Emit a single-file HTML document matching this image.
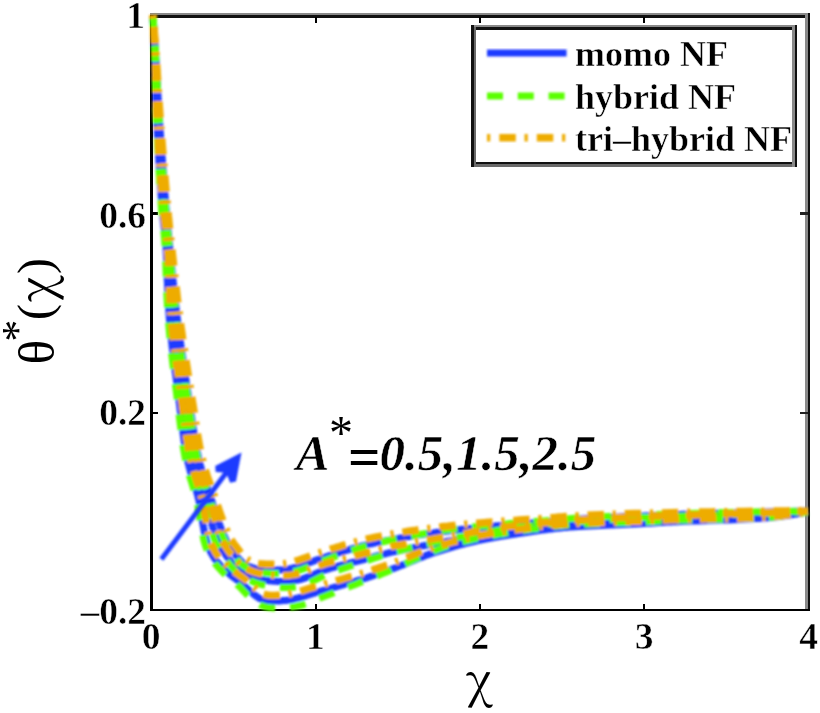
<!DOCTYPE html>
<html><head><meta charset="utf-8"><title>theta plot</title>
<style>
html,body{margin:0;padding:0;background:#fff;}
body{width:820px;height:713px;overflow:hidden;}
svg{display:block;}
.tk{font-family:"Liberation Serif",serif;font-weight:bold;font-size:37.5px;fill:#000;stroke:#fff;stroke-width:0.5px;}
.lg{font-family:"Liberation Serif",serif;font-weight:bold;font-size:36px;fill:#000;stroke:#fff;stroke-width:0.5px;}
.an{font-family:"Liberation Serif",serif;font-weight:bold;font-style:italic;font-size:50px;fill:#000;stroke:#fff;stroke-width:0.5px;}
.anu{font-family:"Liberation Serif",serif;font-weight:bold;font-size:50px;fill:#000;}
.gx{font-family:"Noto Serif CJK SC","DejaVu Serif",serif;font-size:48px;fill:#000;}
.pr{font-family:"Liberation Serif",serif;font-size:48px;fill:#000;}
</style></head>
<body>
<svg width="820" height="713" viewBox="0 0 820 713">
<defs>
<filter id="bl" x="-5%" y="-5%" width="110%" height="110%"><feGaussianBlur stdDeviation="0.8"/></filter>
</defs>
<rect x="0" y="0" width="820" height="713" fill="#fff"/>
<!-- axes box -->
<g shape-rendering="crispEdges">
<rect x="150" y="13" width="660" height="2.3" fill="#8a8a8a"/>
<rect x="150" y="15.3" width="660" height="2.4" fill="#111"/>
<rect x="805" y="13" width="2.5" height="598" fill="#8a8a8a"/>
<rect x="807.5" y="13" width="2.5" height="598" fill="#111"/>
<rect x="150" y="15" width="2.6" height="596" fill="#000"/>
<rect x="150" y="608.9" width="660" height="2.3" fill="#000"/>
<!-- ticks bottom/top -->
<rect x="314.6" y="603.5" width="2" height="6" fill="#000"/>
<rect x="479" y="603.5" width="2" height="6" fill="#000"/>
<rect x="643.4" y="603.5" width="2" height="6" fill="#000"/>
<rect x="314.6" y="17" width="2" height="6" fill="#000"/>
<rect x="479" y="17" width="2" height="6" fill="#000"/>
<rect x="643.4" y="17" width="2" height="6" fill="#000"/>
<!-- ticks left/right -->
<rect x="152" y="212.3" width="6" height="2.3" fill="#000"/>
<rect x="152" y="411.6" width="6" height="2.3" fill="#000"/>
<rect x="799.5" y="212.4" width="8" height="2.4" fill="#222"/>
<rect x="799.5" y="411.7" width="8" height="2.4" fill="#222"/>
</g>
<g filter="url(#bl)">
<path d="M153.0,15.0 L153.2,18.7 L153.3,22.4 L153.5,26.1 L153.6,29.8 L153.8,33.4 L153.9,37.1 L154.1,40.8 L154.2,44.5 L154.4,48.3 L154.5,52.1 L154.7,56.0 L154.8,60.0 L155.0,64.7 L155.1,69.3 L155.2,74.1 L155.3,78.9 L155.4,83.7 L155.6,88.6 L155.7,93.6 L155.8,98.7 L156.0,103.9 L156.2,109.1 L156.4,114.5 L156.6,120.0 L157.0,127.2 L157.4,135.0 L157.8,143.1 L158.3,151.6 L158.8,160.1 L159.3,168.7 L159.9,177.2 L160.4,185.4 L161.0,193.2 L161.5,200.5 L162.0,207.1 L162.5,213.0 L162.8,215.8 L163.0,218.3 L163.3,220.6 L163.5,222.7 L163.8,224.7 L164.0,226.6 L164.3,228.6 L164.5,230.5 L164.8,232.6 L165.0,234.9 L165.3,237.3 L165.5,240.0 L165.9,245.2 L166.2,250.9 L166.5,257.0 L166.7,263.5 L167.0,270.3 L167.2,277.4 L167.5,284.5 L167.8,291.8 L168.1,299.0 L168.5,306.2 L169.0,313.2 L169.5,320.0 L170.1,326.7 L170.8,333.5 L171.5,340.3 L172.2,347.1 L173.1,353.9 L173.9,360.7 L174.7,367.5 L175.6,374.2 L176.5,380.8 L177.3,387.3 L178.2,393.7 L179.0,400.0 L179.7,405.3 L180.3,410.7 L181.0,415.9 L181.6,421.1 L182.2,426.3 L182.9,431.3 L183.5,436.3 L184.2,441.3 L185.0,446.1 L185.8,450.8 L186.6,455.5 L187.5,460.0 L188.3,463.7 L189.2,467.2 L190.2,470.7 L191.2,474.2 L192.2,477.6 L193.3,480.9 L194.3,484.2 L195.3,487.4 L196.3,490.6 L197.2,493.7 L198.0,496.9 L198.8,500.0 L199.4,502.7 L199.9,505.3 L200.4,508.0 L200.8,510.6 L201.2,513.3 L201.6,515.8 L202.0,518.4 L202.4,520.8 L202.8,523.3 L203.2,525.6 L203.6,527.8 L204.0,530.0 L204.3,531.5 L204.6,533.0 L204.9,534.4 L205.2,535.8 L205.5,537.1 L205.8,538.5 L206.1,539.8 L206.4,541.0 L206.8,542.3 L207.1,543.5 L207.5,544.8 L208.0,546.0 L208.5,547.2 L208.9,548.3 L209.4,549.4 L210.0,550.5 L210.5,551.6 L211.1,552.7 L211.7,553.8 L212.3,554.8 L212.9,555.9 L213.6,556.9 L214.3,558.0 L215.0,559.0 L215.8,560.1 L216.7,561.3 L217.6,562.4 L218.6,563.5 L219.6,564.6 L220.6,565.7 L221.6,566.8 L222.7,567.9 L223.8,568.9 L224.8,570.0 L225.9,571.0 L227.0,572.0 L228.1,573.0 L229.2,573.9 L230.3,574.8 L231.4,575.7 L232.6,576.6 L233.7,577.5 L234.9,578.4 L236.1,579.2 L237.3,580.1 L238.5,581.1 L239.7,582.0 L241.0,583.0 L242.6,584.3 L244.2,585.7 L245.9,587.3 L247.5,588.8 L249.3,590.4 L251.0,592.0 L252.8,593.6 L254.6,595.1 L256.4,596.4 L258.2,597.6 L260.1,598.7 L262.0,599.5 L263.8,600.1 L265.7,600.5 L267.6,600.8 L269.6,601.0 L271.6,601.2 L273.6,601.2 L275.6,601.1 L277.6,601.1 L279.5,600.9 L281.4,600.8 L283.2,600.6 L285.0,600.5 L286.4,600.4 L287.7,600.2 L289.0,600.0 L290.3,599.8 L291.6,599.6 L292.8,599.3 L294.0,599.0 L295.2,598.7 L296.4,598.4 L297.6,598.1 L298.8,597.8 L300.0,597.5 L301.1,597.2 L302.2,596.9 L303.3,596.6 L304.4,596.3 L305.4,595.9 L306.5,595.6 L307.5,595.2 L308.6,594.9 L309.7,594.6 L310.7,594.2 L311.9,593.8 L313.0,593.5 L314.3,593.1 L315.6,592.7 L317.0,592.3 L318.3,591.9 L319.6,591.5 L321.0,591.1 L322.4,590.7 L323.8,590.3 L325.3,589.9 L326.8,589.4 L328.4,589.0 L330.0,588.5 L332.4,587.8 L334.9,587.1 L337.5,586.4 L340.2,585.6 L343.0,584.8 L345.9,584.0 L348.8,583.2 L351.7,582.4 L354.5,581.6 L357.4,580.7 L360.2,579.9 L363.0,579.0 L365.7,578.1 L368.3,577.3 L371.0,576.4 L373.6,575.5 L376.3,574.7 L378.9,573.8 L381.5,572.8 L384.2,571.9 L386.8,571.0 L389.5,570.0 L392.2,569.0 L395.0,568.0 L398.1,566.8 L401.1,565.6 L404.2,564.4 L407.4,563.1 L410.5,561.8 L413.7,560.5 L416.9,559.1 L420.1,557.8 L423.3,556.6 L426.5,555.3 L429.7,554.1 L433.0,553.0 L436.3,551.9 L439.7,550.8 L443.0,549.8 L446.4,548.8 L449.7,547.8 L453.1,546.8 L456.5,545.9 L460.0,544.9 L463.4,544.0 L466.9,543.2 L470.4,542.3 L474.0,541.5 L477.9,540.6 L481.8,539.8 L485.8,539.0 L489.9,538.3 L494.0,537.5 L498.1,536.8 L502.2,536.1 L506.2,535.5 L510.3,534.8 L514.3,534.2 L518.2,533.6 L522.0,533.0 L525.4,532.5 L528.7,532.0 L532.1,531.5 L535.4,531.0 L538.7,530.6 L542.0,530.1 L545.2,529.7 L548.4,529.3 L551.4,529.0 L554.4,528.6 L557.3,528.3 L560.0,528.0 L561.9,527.8 L563.6,527.6 L565.2,527.5 L566.7,527.4 L568.2,527.3 L569.7,527.1 L571.2,527.0 L572.7,526.9 L574.3,526.8 L576.1,526.7 L578.0,526.6 L580.0,526.5 L584.1,526.3 L588.8,526.0 L593.9,525.8 L599.3,525.5 L605.0,525.3 L610.9,525.0 L616.8,524.7 L622.7,524.5 L628.4,524.2 L634.0,524.0 L639.2,523.7 L644.0,523.5 L647.3,523.3 L650.5,523.2 L653.4,523.0 L656.3,522.8 L659.1,522.6 L661.9,522.5 L664.7,522.3 L667.5,522.1 L670.4,522.0 L673.4,521.8 L676.6,521.7 L680.0,521.5 L685.1,521.3 L690.7,521.1 L696.6,520.9 L702.7,520.7 L709.0,520.5 L715.4,520.3 L721.7,520.1 L728.0,519.9 L734.0,519.7 L739.8,519.5 L745.1,519.3 L750.0,519.0 L752.9,518.8 L755.7,518.6 L758.4,518.5 L761.0,518.3 L763.5,518.1 L765.9,517.9 L768.2,517.7 L770.6,517.5 L772.9,517.3 L775.2,517.1 L777.6,516.8 L780.0,516.5 L782.4,516.2 L784.7,515.9 L787.1,515.5 L789.4,515.2 L791.7,514.8 L794.1,514.4 L796.4,514.0 L798.7,513.6 L801.0,513.2 L803.3,512.8 L805.7,512.4 L808.0,512.0" stroke="#1f3bff" stroke-width="7" fill="none" stroke-linejoin="round"/>
<path d="M153.0,15.0 L153.2,18.7 L153.4,22.4 L153.6,26.1 L153.8,29.8 L154.0,33.4 L154.2,37.1 L154.5,40.8 L154.7,44.5 L154.9,48.3 L155.1,52.1 L155.3,56.0 L155.5,60.0 L155.7,64.7 L156.0,69.3 L156.2,74.1 L156.4,78.9 L156.6,83.7 L156.8,88.6 L157.0,93.6 L157.3,98.7 L157.5,103.9 L157.8,109.1 L158.1,114.5 L158.4,120.0 L158.8,127.2 L159.3,135.0 L159.8,143.1 L160.4,151.6 L161.0,160.1 L161.5,168.7 L162.1,177.2 L162.7,185.4 L163.3,193.2 L163.8,200.5 L164.3,207.1 L164.8,213.0 L165.0,215.8 L165.2,218.3 L165.5,220.6 L165.7,222.7 L165.9,224.7 L166.1,226.6 L166.2,228.6 L166.4,230.5 L166.7,232.6 L166.9,234.9 L167.1,237.3 L167.4,240.0 L167.8,245.2 L168.3,250.9 L168.7,257.0 L169.2,263.5 L169.7,270.3 L170.3,277.4 L170.8,284.5 L171.4,291.8 L172.1,299.0 L172.7,306.2 L173.4,313.2 L174.2,320.0 L174.9,326.7 L175.8,333.5 L176.7,340.3 L177.7,347.1 L178.6,353.9 L179.6,360.7 L180.6,367.5 L181.7,374.2 L182.7,380.8 L183.6,387.3 L184.6,393.7 L185.5,400.0 L186.2,405.3 L186.9,410.6 L187.6,415.9 L188.2,421.1 L188.9,426.3 L189.5,431.3 L190.1,436.3 L190.8,441.3 L191.6,446.1 L192.3,450.8 L193.2,455.5 L194.1,460.0 L194.9,463.6 L195.8,467.2 L196.7,470.6 L197.7,474.0 L198.7,477.3 L199.7,480.5 L200.7,483.8 L201.8,487.0 L202.8,490.2 L203.8,493.4 L204.8,496.7 L205.8,500.0 L206.7,503.4 L207.6,506.9 L208.5,510.4 L209.4,514.0 L210.3,517.5 L211.1,521.1 L212.0,524.6 L212.9,527.9 L213.9,531.2 L214.9,534.3 L215.9,537.3 L217.0,540.0 L217.8,541.8 L218.7,543.6 L219.5,545.2 L220.4,546.8 L221.3,548.3 L222.2,549.8 L223.1,551.2 L224.1,552.6 L225.0,554.0 L226.0,555.3 L227.0,556.7 L228.0,558.0 L228.9,559.2 L229.9,560.4 L230.8,561.6 L231.7,562.8 L232.7,563.9 L233.7,565.1 L234.7,566.2 L235.7,567.2 L236.7,568.2 L237.8,569.2 L238.9,570.1 L240.0,571.0 L241.1,571.8 L242.3,572.5 L243.4,573.2 L244.6,573.9 L245.8,574.5 L247.0,575.1 L248.2,575.6 L249.5,576.1 L250.8,576.6 L252.2,577.1 L253.6,577.6 L255.0,578.0 L256.8,578.5 L258.8,579.0 L260.8,579.4 L262.9,579.8 L265.0,580.2 L267.2,580.5 L269.4,580.8 L271.6,581.0 L273.8,581.2 L275.9,581.3 L278.0,581.4 L280.0,581.5 L281.7,581.5 L283.4,581.5 L285.1,581.5 L286.8,581.4 L288.4,581.3 L290.0,581.2 L291.7,581.0 L293.3,580.8 L294.9,580.5 L296.6,580.2 L298.3,579.9 L300.0,579.5 L302.0,579.0 L304.0,578.4 L306.0,577.6 L308.0,576.9 L310.0,576.0 L312.0,575.2 L314.1,574.3 L316.2,573.4 L318.3,572.5 L320.5,571.6 L322.7,570.8 L325.0,570.0 L327.8,569.1 L330.7,568.2 L333.8,567.4 L336.8,566.5 L340.0,565.7 L343.1,564.8 L346.3,564.0 L349.5,563.2 L352.7,562.4 L355.9,561.6 L359.0,560.8 L362.0,560.0 L364.8,559.3 L367.5,558.5 L370.1,557.8 L372.7,557.1 L375.3,556.4 L377.9,555.7 L380.6,555.0 L383.3,554.3 L386.0,553.6 L388.9,552.9 L391.9,552.2 L395.0,551.5 L399.6,550.5 L404.5,549.5 L409.6,548.5 L415.0,547.4 L420.4,546.4 L426.0,545.3 L431.6,544.3 L437.2,543.3 L442.7,542.3 L448.0,541.3 L453.1,540.4 L458.0,539.5 L461.8,538.8 L465.4,538.1 L468.9,537.4 L472.3,536.8 L475.7,536.2 L479.0,535.5 L482.4,534.9 L485.7,534.3 L489.2,533.7 L492.7,533.1 L496.3,532.6 L500.0,532.0 L504.6,531.3 L509.3,530.7 L514.0,530.1 L518.8,529.4 L523.7,528.8 L528.7,528.3 L533.7,527.7 L538.8,527.1 L544.0,526.6 L549.3,526.0 L554.6,525.5 L560.0,525.0 L566.6,524.4 L573.4,523.8 L580.4,523.3 L587.6,522.7 L594.8,522.2 L602.2,521.6 L609.5,521.1 L616.7,520.7 L623.9,520.2 L630.8,519.8 L637.5,519.4 L644.0,519.0 L649.0,518.7 L653.8,518.5 L658.4,518.2 L662.8,518.0 L667.2,517.9 L671.6,517.7 L675.9,517.5 L680.4,517.3 L685.0,517.1 L689.7,516.9 L694.7,516.7 L700.0,516.5 L707.8,516.1 L716.0,515.8 L724.5,515.4 L733.4,515.0 L742.5,514.5 L751.8,514.1 L761.2,513.7 L770.7,513.2 L780.2,512.8 L789.6,512.4 L798.9,511.9 L808.0,511.5" stroke="#1f3bff" stroke-width="7" fill="none" stroke-linejoin="round"/>
<path d="M153.0,15.0 L153.2,18.7 L153.5,22.4 L153.7,26.1 L154.0,29.8 L154.2,33.4 L154.5,37.1 L154.7,40.8 L155.0,44.5 L155.2,48.3 L155.5,52.1 L155.7,56.0 L156.0,60.0 L156.3,64.7 L156.6,69.3 L156.8,74.1 L157.1,78.9 L157.4,83.7 L157.6,88.6 L157.9,93.6 L158.2,98.7 L158.5,103.9 L158.8,109.1 L159.1,114.5 L159.5,120.0 L160.0,127.2 L160.5,135.0 L161.1,143.1 L161.7,151.6 L162.4,160.1 L163.0,168.7 L163.7,177.2 L164.3,185.4 L164.9,193.2 L165.5,200.5 L166.0,207.1 L166.5,213.0 L166.7,215.8 L166.9,218.3 L167.1,220.6 L167.3,222.7 L167.5,224.7 L167.7,226.6 L167.9,228.6 L168.1,230.5 L168.3,232.6 L168.5,234.9 L168.7,237.3 L169.0,240.0 L169.5,245.2 L170.1,250.9 L170.7,257.0 L171.3,263.5 L172.0,270.3 L172.7,277.4 L173.5,284.5 L174.3,291.8 L175.0,299.0 L175.9,306.2 L176.7,313.2 L177.5,320.0 L178.4,326.7 L179.2,333.5 L180.2,340.3 L181.1,347.1 L182.1,353.9 L183.1,360.7 L184.1,367.5 L185.1,374.2 L186.1,380.8 L187.0,387.3 L188.0,393.7 L189.0,400.0 L189.8,405.3 L190.6,410.7 L191.4,415.9 L192.1,421.1 L192.9,426.3 L193.7,431.4 L194.4,436.4 L195.3,441.3 L196.1,446.1 L197.0,450.8 L198.0,455.5 L199.0,460.0 L199.9,463.7 L200.9,467.3 L201.9,470.9 L203.0,474.5 L204.1,478.0 L205.3,481.4 L206.4,484.8 L207.5,488.0 L208.6,491.2 L209.6,494.2 L210.6,497.2 L211.5,500.0 L212.1,501.9 L212.7,503.7 L213.2,505.5 L213.8,507.2 L214.3,508.8 L214.8,510.4 L215.3,512.0 L215.8,513.6 L216.3,515.2 L216.9,516.8 L217.4,518.4 L218.0,520.0 L218.6,521.7 L219.2,523.4 L219.9,525.2 L220.5,526.9 L221.2,528.7 L221.8,530.4 L222.5,532.1 L223.2,533.8 L223.9,535.5 L224.6,537.1 L225.3,538.6 L226.0,540.0 L226.6,541.1 L227.1,542.1 L227.7,543.0 L228.2,544.0 L228.8,544.9 L229.3,545.8 L229.9,546.6 L230.5,547.5 L231.1,548.3 L231.7,549.2 L232.3,550.1 L233.0,551.0 L233.7,552.0 L234.5,553.1 L235.3,554.1 L236.0,555.2 L236.8,556.3 L237.6,557.4 L238.5,558.4 L239.3,559.5 L240.2,560.4 L241.1,561.4 L242.0,562.2 L243.0,563.0 L243.9,563.7 L244.8,564.3 L245.8,564.8 L246.7,565.4 L247.7,565.9 L248.7,566.3 L249.7,566.8 L250.8,567.2 L251.8,567.5 L252.9,567.9 L253.9,568.2 L255.0,568.5 L256.2,568.8 L257.4,569.0 L258.6,569.2 L259.8,569.4 L261.1,569.5 L262.4,569.7 L263.6,569.7 L264.9,569.8 L266.2,569.9 L267.5,569.9 L268.7,570.0 L270.0,570.0 L271.2,570.0 L272.5,570.1 L273.8,570.1 L275.0,570.1 L276.3,570.1 L277.5,570.1 L278.8,570.0 L280.0,570.0 L281.3,569.9 L282.5,569.8 L283.8,569.7 L285.0,569.5 L286.3,569.3 L287.5,569.1 L288.7,568.9 L290.0,568.6 L291.2,568.4 L292.4,568.1 L293.7,567.8 L294.9,567.4 L296.2,567.1 L297.4,566.7 L298.7,566.4 L300.0,566.0 L301.5,565.6 L302.9,565.1 L304.4,564.5 L305.9,564.0 L307.4,563.4 L308.9,562.9 L310.5,562.3 L312.0,561.7 L313.5,561.1 L315.0,560.6 L316.5,560.0 L318.0,559.5 L319.4,559.0 L320.8,558.5 L322.2,558.1 L323.5,557.6 L324.9,557.2 L326.3,556.8 L327.7,556.3 L329.1,555.9 L330.5,555.4 L331.9,555.0 L333.4,554.5 L335.0,554.0 L337.0,553.4 L339.1,552.7 L341.2,552.0 L343.4,551.4 L345.7,550.7 L347.9,550.0 L350.2,549.3 L352.5,548.6 L354.9,547.9 L357.3,547.3 L359.6,546.6 L362.0,546.0 L364.6,545.3 L367.2,544.7 L369.9,544.1 L372.5,543.5 L375.2,542.9 L377.9,542.3 L380.7,541.8 L383.5,541.2 L386.3,540.6 L389.2,540.1 L392.1,539.5 L395.0,539.0 L398.5,538.4 L402.1,537.7 L405.7,537.1 L409.4,536.5 L413.1,535.9 L416.9,535.3 L420.7,534.7 L424.5,534.2 L428.4,533.6 L432.3,533.1 L436.1,532.5 L440.0,532.0 L444.1,531.5 L448.2,531.0 L452.3,530.5 L456.5,530.0 L460.6,529.5 L464.8,529.0 L469.0,528.6 L473.2,528.2 L477.4,527.7 L481.6,527.3 L485.8,526.9 L490.0,526.5 L494.2,526.1 L498.4,525.7 L502.6,525.4 L506.9,525.1 L511.1,524.7 L515.3,524.4 L519.6,524.1 L523.7,523.8 L527.9,523.5 L532.0,523.1 L536.0,522.8 L540.0,522.5 L543.4,522.2 L546.7,521.9 L549.9,521.6 L553.0,521.3 L556.1,521.0 L559.1,520.7 L562.3,520.4 L565.5,520.1 L568.8,519.8 L572.3,519.6 L576.0,519.3 L580.0,519.0 L586.7,518.6 L593.9,518.2 L601.5,517.8 L609.5,517.4 L617.8,517.0 L626.4,516.6 L635.2,516.2 L644.1,515.9 L653.1,515.5 L662.1,515.2 L671.1,514.8 L680.0,514.5 L690.1,514.1 L700.4,513.8 L710.9,513.5 L721.5,513.2 L732.2,512.9 L743.0,512.6 L753.9,512.4 L764.7,512.1 L775.6,511.8 L786.5,511.6 L797.3,511.3 L808.0,511.0" stroke="#1f3bff" stroke-width="7" fill="none" stroke-linejoin="round"/>
<path d="M153.0,15.0 L153.1,18.7 L153.3,22.4 L153.4,26.1 L153.6,29.8 L153.7,33.4 L153.8,37.1 L154.0,40.8 L154.1,44.5 L154.3,48.3 L154.4,52.1 L154.5,56.0 L154.7,60.0 L154.8,64.7 L154.9,69.4 L155.1,74.1 L155.2,78.9 L155.3,83.7 L155.4,88.7 L155.5,93.6 L155.6,98.7 L155.8,103.9 L155.9,109.2 L156.1,114.5 L156.3,120.0 L156.7,127.2 L157.0,135.0 L157.5,143.2 L157.9,151.6 L158.4,160.2 L158.9,168.8 L159.4,177.2 L159.9,185.4 L160.4,193.2 L160.9,200.5 L161.4,207.2 L161.8,213.1 L162.1,215.8 L162.3,218.4 L162.6,220.6 L162.8,222.8 L163.0,224.8 L163.3,226.7 L163.5,228.7 L163.7,230.6 L164.0,232.7 L164.2,234.9 L164.4,237.4 L164.6,240.1 L165.0,245.2 L165.3,250.9 L165.5,257.1 L165.8,263.6 L166.0,270.4 L166.3,277.4 L166.5,284.6 L166.8,291.8 L167.1,299.1 L167.5,306.2 L167.9,313.3 L168.4,320.1 L169.0,326.8 L169.6,333.6 L170.3,340.4 L171.0,347.3 L171.7,354.1 L172.5,360.9 L173.3,367.7 L174.2,374.4 L175.0,381.0 L175.8,387.5 L176.6,393.9 L177.4,400.2 L178.1,405.5 L178.7,410.9 L179.3,416.1 L179.9,421.3 L180.6,426.5 L181.2,431.6 L181.8,436.6 L182.5,441.5 L183.2,446.4 L184.0,451.2 L184.8,455.8 L185.7,460.4 L186.5,464.1 L187.4,467.7 L188.3,471.3 L189.3,474.7 L190.3,478.1 L191.4,481.5 L192.4,484.8 L193.4,488.0 L194.3,491.2 L195.2,494.3 L196.0,497.4 L196.8,500.5 L197.3,503.1 L197.8,505.7 L198.3,508.4 L198.7,511.0 L199.2,513.6 L199.5,516.2 L199.9,518.7 L200.3,521.2 L200.7,523.6 L201.1,526.0 L201.5,528.2 L201.9,530.4 L202.2,532.0 L202.5,533.4 L202.8,534.9 L203.1,536.2 L203.4,537.6 L203.6,539.0 L203.9,540.3 L204.3,541.6 L204.6,542.9 L205.0,544.2 L205.4,545.5 L205.9,546.8 L206.3,548.0 L206.8,549.2 L207.3,550.4 L207.9,551.5 L208.4,552.7 L209.0,553.8 L209.6,554.9 L210.2,556.1 L210.8,557.2 L211.5,558.3 L212.2,559.4 L213.0,560.5 L213.8,561.7 L214.7,562.9 L215.6,564.1 L216.6,565.3 L217.6,566.4 L218.6,567.6 L219.6,568.7 L220.7,569.9 L221.7,571.0 L222.8,572.1 L223.9,573.2 L224.9,574.2 L226.0,575.3 L227.2,576.3 L228.3,577.3 L229.4,578.3 L230.6,579.2 L231.7,580.1 L232.8,581.1 L234.0,582.0 L235.2,582.9 L236.3,583.9 L237.5,584.9 L238.7,585.9 L240.1,587.2 L241.5,588.7 L243.0,590.3 L244.6,592.0 L246.2,593.8 L247.9,595.5 L249.6,597.3 L251.4,599.0 L253.4,600.7 L255.4,602.3 L257.6,603.7 L259.9,604.9 L262.2,605.8 L264.5,606.6 L266.8,607.1 L269.1,607.6 L271.4,607.8 L273.6,607.9 L275.8,608.0 L278.0,608.0 L280.0,607.9 L282.0,607.8 L283.8,607.7 L285.6,607.7 L287.1,607.6 L288.7,607.5 L290.2,607.3 L291.6,607.1 L293.0,606.9 L294.4,606.6 L295.7,606.4 L297.0,606.1 L298.3,605.8 L299.5,605.6 L300.7,605.3 L302.0,605.1 L303.1,604.7 L304.3,604.2 L305.4,603.8 L306.6,603.4 L307.6,603.0 L308.7,602.5 L309.7,602.1 L310.8,601.7 L311.8,601.2 L312.8,600.8 L313.9,600.4 L315.0,600.0 L316.2,599.5 L317.5,599.0 L318.8,598.5 L320.1,598.0 L321.4,597.5 L322.7,597.0 L324.1,596.5 L325.5,596.0 L326.9,595.4 L328.4,594.9 L329.9,594.3 L331.5,593.7 L333.8,592.8 L336.2,591.8 L338.8,590.8 L341.4,589.8 L344.1,588.8 L346.9,587.7 L349.7,586.6 L352.5,585.5 L355.4,584.4 L358.2,583.3 L360.9,582.1 L363.7,581.1 L366.3,580.1 L368.9,579.1 L371.5,578.1 L374.1,577.0 L376.7,576.0 L379.3,575.0 L381.9,573.9 L384.5,572.8 L387.1,571.7 L389.7,570.6 L392.4,569.4 L395.1,568.3 L398.1,567.0 L401.1,565.6 L404.2,564.2 L407.2,562.8 L410.3,561.3 L413.4,559.9 L416.6,558.4 L419.7,556.9 L422.9,555.5 L426.1,554.1 L429.3,552.8 L432.5,551.5 L435.8,550.2 L439.1,549.0 L442.4,547.8 L445.7,546.6 L449.1,545.5 L452.5,544.5 L455.9,543.5 L459.4,542.6 L462.8,541.7 L466.4,540.8 L469.9,540.0 L473.5,539.2 L477.4,538.3 L481.3,537.5 L485.4,536.7 L489.5,535.9 L493.6,535.2 L497.7,534.4 L501.8,533.8 L505.9,533.1 L509.9,532.4 L513.9,531.8 L517.8,531.2 L521.6,530.6 L525.0,530.1 L528.4,529.6 L531.7,529.1 L535.1,528.7 L538.4,528.2 L541.7,527.8 L544.9,527.3 L548.1,526.9 L551.2,526.6 L554.1,526.2 L557.0,525.9 L559.8,525.6 L561.6,525.4 L563.3,525.3 L565.0,525.2 L566.5,525.0 L568.0,524.9 L569.5,524.8 L571.0,524.7 L572.6,524.7 L574.2,524.6 L575.9,524.5 L577.8,524.4 L579.9,524.3 L584.0,524.1 L588.7,523.9 L593.8,523.7 L599.2,523.5 L604.9,523.2 L610.8,523.0 L616.7,522.8 L622.6,522.6 L628.4,522.4 L633.9,522.2 L639.1,522.0 L643.9,521.8 L647.2,521.7 L650.4,521.5 L653.4,521.4 L656.2,521.2 L659.0,521.1 L661.8,521.0 L664.6,520.8 L667.4,520.7 L670.3,520.5 L673.4,520.4 L676.5,520.3 L679.9,520.1 L685.1,520.0 L690.6,519.8 L696.5,519.7 L702.7,519.5 L709.0,519.4 L715.4,519.3 L721.7,519.2 L728.0,519.0 L734.0,518.9 L739.7,518.7 L745.1,518.6 L750.0,518.4 L752.9,518.2 L755.7,518.1 L758.4,517.9 L760.9,517.8 L763.4,517.6 L765.8,517.5 L768.2,517.3 L770.5,517.1 L772.8,516.9 L775.2,516.7 L777.5,516.5 L780.0,516.2 L782.3,515.9 L784.7,515.6 L787.0,515.3 L789.4,514.9 L791.7,514.6 L794.0,514.2 L796.4,513.9 L798.7,513.5 L801.0,513.1 L803.3,512.7 L805.7,512.4 L808.0,512.0" stroke="#5aff00" stroke-width="7" fill="none" stroke-dasharray="16,14.8" stroke-dashoffset="0"/>
<path d="M153.0,15.0 L153.2,18.7 L153.4,22.4 L153.6,26.1 L153.8,29.8 L154.0,33.4 L154.2,37.1 L154.4,40.8 L154.6,44.5 L154.8,48.3 L155.0,52.1 L155.2,56.0 L155.4,60.0 L155.6,64.7 L155.8,69.4 L156.0,74.1 L156.2,78.9 L156.4,83.7 L156.6,88.7 L156.8,93.6 L157.0,98.7 L157.3,103.9 L157.5,109.2 L157.8,114.5 L158.1,120.0 L158.5,127.2 L158.9,135.0 L159.4,143.2 L159.9,151.6 L160.5,160.2 L161.0,168.8 L161.6,177.2 L162.1,185.4 L162.7,193.2 L163.2,200.5 L163.7,207.2 L164.1,213.1 L164.3,215.8 L164.5,218.3 L164.7,220.6 L164.9,222.7 L165.1,224.7 L165.3,226.7 L165.5,228.6 L165.7,230.6 L165.9,232.7 L166.1,234.9 L166.3,237.4 L166.5,240.1 L167.0,245.3 L167.4,250.9 L167.8,257.1 L168.3,263.6 L168.8,270.4 L169.3,277.4 L169.9,284.6 L170.4,291.9 L171.0,299.1 L171.6,306.3 L172.3,313.3 L173.0,320.1 L173.8,326.9 L174.6,333.6 L175.5,340.5 L176.4,347.3 L177.3,354.1 L178.3,360.9 L179.3,367.7 L180.3,374.4 L181.2,381.0 L182.2,387.6 L183.1,394.0 L184.0,400.2 L184.7,405.5 L185.4,410.8 L186.0,416.1 L186.7,421.3 L187.3,426.5 L187.9,431.5 L188.6,436.6 L189.2,441.5 L189.9,446.4 L190.7,451.1 L191.5,455.8 L192.5,460.4 L193.3,464.0 L194.2,467.6 L195.1,471.1 L196.1,474.5 L197.0,477.8 L198.1,481.1 L199.1,484.3 L200.1,487.5 L201.1,490.7 L202.1,494.0 L203.1,497.2 L204.0,500.5 L204.9,503.9 L205.8,507.3 L206.7,510.9 L207.5,514.4 L208.3,518.0 L209.2,521.6 L210.1,525.1 L211.0,528.5 L211.9,531.8 L212.9,535.0 L213.9,538.0 L215.0,540.8 L215.8,542.8 L216.7,544.6 L217.5,546.3 L218.4,547.9 L219.3,549.5 L220.2,551.1 L221.1,552.5 L222.1,554.0 L223.0,555.4 L224.0,556.8 L225.0,558.2 L226.0,559.5 L226.9,560.8 L227.8,562.0 L228.7,563.3 L229.6,564.5 L230.6,565.7 L231.6,566.9 L232.6,568.1 L233.6,569.2 L234.7,570.3 L235.8,571.4 L237.0,572.4 L238.2,573.4 L239.4,574.3 L240.6,575.2 L241.8,576.1 L243.0,576.9 L244.2,577.6 L245.5,578.3 L246.8,579.0 L248.1,579.7 L249.5,580.3 L250.9,580.9 L252.3,581.5 L253.8,582.1 L255.7,582.8 L257.8,583.4 L259.9,584.1 L262.0,584.6 L264.3,585.2 L266.5,585.7 L268.8,586.2 L271.1,586.5 L273.3,586.8 L275.6,587.0 L277.8,587.2 L279.9,587.3 L281.7,587.4 L283.5,587.5 L285.3,587.5 L287.1,587.5 L288.9,587.4 L290.6,587.3 L292.4,587.2 L294.2,587.0 L296.0,586.8 L297.8,586.5 L299.6,586.2 L301.5,585.8 L303.8,585.1 L306.0,584.3 L308.1,583.4 L310.2,582.4 L312.3,581.4 L314.3,580.4 L316.3,579.4 L318.3,578.4 L320.3,577.4 L322.4,576.4 L324.4,575.5 L326.5,574.6 L329.2,573.6 L332.0,572.5 L334.9,571.4 L337.9,570.3 L340.9,569.2 L344.0,568.1 L347.1,567.1 L350.2,566.0 L353.4,564.9 L356.4,563.9 L359.5,562.8 L362.5,561.8 L365.2,561.0 L367.9,560.1 L370.5,559.3 L373.1,558.4 L375.6,557.6 L378.2,556.8 L380.8,556.0 L383.5,555.1 L386.2,554.3 L389.0,553.5 L392.0,552.6 L395.1,551.7 L399.6,550.5 L404.4,549.3 L409.5,548.1 L414.8,546.8 L420.3,545.6 L425.8,544.3 L431.4,543.1 L436.9,541.8 L442.4,540.6 L447.7,539.4 L452.8,538.4 L457.6,537.5 L461.4,536.8 L465.0,536.1 L468.5,535.5 L472.0,534.8 L475.3,534.2 L478.7,533.6 L482.0,532.9 L485.4,532.3 L488.8,531.8 L492.3,531.2 L496.0,530.6 L499.7,530.0 L504.3,529.4 L509.0,528.7 L513.7,528.1 L518.6,527.5 L523.5,526.9 L528.5,526.3 L533.5,525.7 L538.6,525.1 L543.8,524.6 L549.1,524.1 L554.4,523.5 L559.8,523.0 L566.4,522.5 L573.2,521.9 L580.2,521.4 L587.4,520.9 L594.7,520.4 L602.0,519.9 L609.4,519.5 L616.6,519.1 L623.8,518.7 L630.7,518.3 L637.5,517.9 L643.9,517.6 L648.9,517.4 L653.7,517.1 L658.3,516.9 L662.8,516.8 L667.2,516.6 L671.5,516.5 L675.9,516.3 L680.4,516.2 L684.9,516.0 L689.7,515.9 L694.7,515.7 L700.0,515.5 L707.7,515.2 L715.9,514.9 L724.5,514.6 L733.4,514.3 L742.5,513.9 L751.8,513.6 L761.2,513.2 L770.7,512.9 L780.2,512.5 L789.6,512.2 L798.9,511.8 L808.0,511.5" stroke="#5aff00" stroke-width="7" fill="none" stroke-dasharray="16,14.8" stroke-dashoffset="0"/>
<path d="M153.0,15.0 L153.2,18.7 L153.5,22.4 L153.7,26.1 L154.0,29.8 L154.2,33.4 L154.4,37.1 L154.7,40.8 L154.9,44.5 L155.2,48.3 L155.4,52.1 L155.7,56.0 L155.9,60.0 L156.2,64.7 L156.4,69.4 L156.7,74.1 L156.9,78.9 L157.2,83.7 L157.5,88.7 L157.7,93.6 L158.0,98.7 L158.3,103.9 L158.6,109.2 L158.9,114.5 L159.3,120.0 L159.7,127.2 L160.3,135.0 L160.8,143.2 L161.4,151.6 L162.0,160.2 L162.7,168.7 L163.3,177.2 L163.9,185.4 L164.5,193.2 L165.0,200.5 L165.6,207.2 L166.0,213.0 L166.3,215.8 L166.5,218.3 L166.7,220.6 L166.8,222.7 L167.0,224.7 L167.2,226.7 L167.4,228.6 L167.6,230.6 L167.8,232.7 L168.0,234.9 L168.2,237.4 L168.5,240.1 L169.0,245.2 L169.5,250.9 L170.1,257.1 L170.7,263.6 L171.4,270.4 L172.1,277.4 L172.8,284.6 L173.6,291.9 L174.3,299.1 L175.1,306.3 L175.9,313.3 L176.7,320.1 L177.6,326.8 L178.5,333.6 L179.4,340.4 L180.3,347.2 L181.2,354.1 L182.2,360.9 L183.2,367.6 L184.2,374.3 L185.2,381.0 L186.1,387.5 L187.1,393.9 L188.1,400.1 L188.9,405.5 L189.6,410.8 L190.4,416.1 L191.2,421.3 L191.9,426.4 L192.7,431.5 L193.4,436.5 L194.2,441.5 L195.1,446.3 L196.0,451.0 L197.0,455.7 L198.0,460.2 L198.9,464.0 L199.9,467.6 L200.9,471.2 L202.0,474.8 L203.1,478.3 L204.2,481.8 L205.3,485.1 L206.4,488.4 L207.5,491.5 L208.5,494.6 L209.5,497.5 L210.4,500.4 L211.0,502.3 L211.5,504.1 L212.1,505.9 L212.6,507.6 L213.1,509.2 L213.6,510.8 L214.1,512.4 L214.6,514.0 L215.1,515.6 L215.6,517.2 L216.2,518.8 L216.8,520.4 L217.4,522.2 L218.0,523.9 L218.6,525.6 L219.2,527.4 L219.9,529.2 L220.5,530.9 L221.2,532.7 L221.9,534.4 L222.6,536.0 L223.2,537.7 L224.0,539.2 L224.7,540.7 L225.2,541.8 L225.8,542.8 L226.3,543.8 L226.9,544.8 L227.4,545.7 L228.0,546.6 L228.6,547.5 L229.2,548.4 L229.8,549.3 L230.4,550.2 L231.0,551.1 L231.7,552.0 L232.4,553.0 L233.1,554.1 L233.9,555.1 L234.6,556.2 L235.4,557.4 L236.3,558.5 L237.1,559.6 L238.0,560.6 L238.9,561.7 L239.8,562.7 L240.8,563.7 L241.8,564.5 L242.8,565.3 L243.7,566.0 L244.7,566.6 L245.7,567.3 L246.8,567.8 L247.8,568.4 L248.9,568.9 L249.9,569.3 L251.0,569.8 L252.1,570.2 L253.2,570.6 L254.4,571.0 L255.6,571.3 L256.9,571.7 L258.2,571.9 L259.5,572.2 L260.8,572.4 L262.1,572.6 L263.4,572.7 L264.8,572.9 L266.1,573.0 L267.4,573.1 L268.6,573.2 L269.9,573.3 L271.2,573.4 L272.4,573.4 L273.7,573.5 L275.0,573.5 L276.3,573.5 L277.6,573.5 L278.9,573.5 L280.2,573.5 L281.5,573.4 L282.8,573.3 L284.2,573.2 L285.5,573.1 L286.8,572.9 L288.1,572.7 L289.4,572.5 L290.7,572.3 L292.0,572.0 L293.3,571.7 L294.6,571.4 L295.9,571.1 L297.2,570.8 L298.5,570.4 L299.8,570.1 L301.1,569.7 L302.6,569.2 L304.1,568.6 L305.7,568.1 L307.2,567.4 L308.7,566.8 L310.2,566.2 L311.7,565.5 L313.2,564.9 L314.7,564.3 L316.1,563.7 L317.6,563.1 L319.0,562.5 L320.4,562.0 L321.8,561.5 L323.1,560.9 L324.5,560.4 L325.8,560.0 L327.1,559.5 L328.5,559.0 L329.9,558.5 L331.3,558.0 L332.7,557.4 L334.2,556.9 L335.7,556.3 L337.7,555.6 L339.8,554.9 L341.9,554.1 L344.0,553.3 L346.2,552.5 L348.4,551.7 L350.7,550.9 L353.0,550.1 L355.3,549.3 L357.6,548.5 L359.9,547.8 L362.3,547.1 L364.9,546.4 L367.5,545.7 L370.1,545.0 L372.7,544.3 L375.4,543.6 L378.1,543.0 L380.8,542.3 L383.6,541.7 L386.4,541.0 L389.2,540.4 L392.1,539.8 L395.0,539.1 L398.5,538.4 L402.0,537.7 L405.7,537.0 L409.3,536.3 L413.1,535.6 L416.8,534.9 L420.6,534.2 L424.5,533.6 L428.3,532.9 L432.2,532.3 L436.0,531.7 L439.9,531.0 L443.9,530.4 L448.0,529.8 L452.2,529.3 L456.3,528.8 L460.5,528.3 L464.7,527.8 L468.9,527.4 L473.1,527.0 L477.3,526.5 L481.5,526.1 L485.7,525.7 L489.9,525.3 L494.1,524.9 L498.3,524.6 L502.5,524.2 L506.8,523.9 L511.0,523.5 L515.3,523.2 L519.5,522.9 L523.7,522.6 L527.8,522.3 L531.9,521.9 L535.9,521.6 L539.9,521.3 L543.3,521.0 L546.6,520.7 L549.8,520.4 L552.9,520.1 L556.0,519.8 L559.0,519.5 L562.2,519.2 L565.4,519.0 L568.7,518.7 L572.2,518.4 L576.0,518.1 L579.9,517.9 L586.6,517.5 L593.9,517.1 L601.5,516.7 L609.5,516.4 L617.8,516.0 L626.4,515.7 L635.1,515.3 L644.0,515.0 L653.0,514.7 L662.1,514.4 L671.1,514.1 L680.0,513.8 L690.1,513.5 L700.4,513.2 L710.9,513.0 L721.5,512.7 L732.2,512.5 L743.0,512.3 L753.9,512.1 L764.7,511.9 L775.6,511.7 L786.5,511.4 L797.3,511.2 L808.0,511.0" stroke="#5aff00" stroke-width="7" fill="none" stroke-dasharray="16,14.8" stroke-dashoffset="0"/>
<path d="M153.0,15.0 L153.2,18.7 L153.3,22.4 L153.5,26.1 L153.7,29.8 L153.9,33.4 L154.0,37.1 L154.2,40.8 L154.4,44.5 L154.5,48.3 L154.7,52.1 L154.9,56.0 L155.0,60.0 L155.2,64.6 L155.3,69.3 L155.5,74.1 L155.6,78.9 L155.7,83.7 L155.9,88.6 L156.0,93.6 L156.2,98.7 L156.3,103.9 L156.5,109.1 L156.8,114.5 L157.0,120.0 L157.4,127.2 L157.9,134.9 L158.4,143.1 L158.9,151.5 L159.5,160.1 L160.1,168.7 L160.7,177.1 L161.3,185.3 L161.9,193.1 L162.5,200.4 L163.1,207.1 L163.6,212.9 L163.9,215.7 L164.2,218.1 L164.5,220.4 L164.8,222.5 L165.1,224.5 L165.4,226.4 L165.6,228.4 L165.9,230.4 L166.2,232.5 L166.5,234.7 L166.7,237.2 L167.0,239.9 L167.4,245.1 L167.7,250.8 L168.1,256.9 L168.3,263.5 L168.6,270.3 L168.9,277.3 L169.2,284.5 L169.5,291.7 L169.9,298.9 L170.3,306.1 L170.8,313.1 L171.4,319.8 L172.0,326.5 L172.7,333.3 L173.5,340.1 L174.4,346.9 L175.2,353.7 L176.2,360.5 L177.1,367.2 L178.0,373.9 L178.9,380.5 L179.9,387.0 L180.7,393.4 L181.6,399.7 L182.3,405.0 L183.0,410.3 L183.7,415.6 L184.4,420.8 L185.1,425.9 L185.7,431.0 L186.4,436.0 L187.2,440.8 L187.9,445.6 L188.7,450.3 L189.6,454.9 L190.5,459.4 L191.4,462.9 L192.3,466.4 L193.3,469.9 L194.3,473.3 L195.3,476.6 L196.4,479.9 L197.5,483.2 L198.5,486.4 L199.5,489.6 L200.5,492.8 L201.4,496.0 L202.2,499.2 L202.8,502.0 L203.3,504.7 L203.8,507.4 L204.3,510.1 L204.7,512.7 L205.1,515.3 L205.5,517.8 L205.9,520.3 L206.3,522.7 L206.7,525.0 L207.1,527.2 L207.5,529.3 L207.8,530.8 L208.1,532.3 L208.4,533.7 L208.7,535.1 L209.0,536.4 L209.3,537.7 L209.6,538.9 L210.0,540.1 L210.3,541.2 L210.7,542.4 L211.1,543.5 L211.5,544.6 L212.0,545.7 L212.5,546.8 L213.0,547.8 L213.5,548.8 L214.0,549.8 L214.6,550.8 L215.1,551.8 L215.7,552.8 L216.4,553.7 L217.0,554.7 L217.7,555.6 L218.4,556.6 L219.2,557.6 L220.1,558.6 L221.0,559.6 L221.9,560.6 L222.9,561.6 L223.8,562.6 L224.9,563.6 L225.9,564.6 L227.0,565.6 L228.1,566.6 L229.2,567.5 L230.2,568.5 L231.3,569.4 L232.3,570.2 L233.4,571.0 L234.5,571.8 L235.6,572.6 L236.8,573.4 L238.0,574.2 L239.2,575.1 L240.4,575.9 L241.7,576.8 L243.0,577.7 L244.4,578.8 L246.1,580.2 L247.9,581.7 L249.6,583.3 L251.3,584.9 L253.0,586.4 L254.7,587.9 L256.3,589.4 L258.0,590.7 L259.6,591.9 L261.1,592.9 L262.6,593.7 L264.0,594.2 L265.3,594.6 L266.8,595.0 L268.4,595.2 L270.1,595.4 L271.8,595.4 L273.6,595.4 L275.4,595.4 L277.3,595.3 L279.1,595.2 L281.0,595.0 L282.8,594.8 L284.5,594.7 L285.8,594.5 L286.9,594.4 L288.1,594.2 L289.2,594.0 L290.4,593.8 L291.5,593.5 L292.6,593.2 L293.8,592.9 L294.9,592.6 L296.1,592.3 L297.3,592.0 L298.5,591.7 L299.6,591.4 L300.6,591.1 L301.6,590.9 L302.6,590.6 L303.6,590.2 L304.6,589.9 L305.7,589.6 L306.7,589.2 L307.8,588.9 L308.9,588.5 L310.1,588.2 L311.3,587.8 L312.6,587.4 L313.9,587.1 L315.3,586.7 L316.6,586.3 L318.0,585.9 L319.4,585.5 L320.8,585.1 L322.2,584.7 L323.7,584.3 L325.2,583.8 L326.8,583.4 L328.4,582.9 L330.8,582.2 L333.3,581.5 L335.9,580.8 L338.7,580.1 L341.5,579.3 L344.3,578.5 L347.2,577.7 L350.1,576.9 L353.0,576.1 L355.8,575.3 L358.6,574.5 L361.3,573.6 L364.0,572.8 L366.6,572.0 L369.2,571.1 L371.9,570.3 L374.5,569.4 L377.1,568.5 L379.7,567.6 L382.3,566.7 L385.0,565.8 L387.7,564.9 L390.4,563.9 L393.1,562.9 L396.1,561.8 L399.1,560.6 L402.2,559.4 L405.3,558.2 L408.5,556.9 L411.7,555.6 L414.9,554.3 L418.1,553.1 L421.4,551.8 L424.7,550.6 L428.1,549.4 L431.4,548.3 L434.8,547.2 L438.2,546.1 L441.6,545.1 L445.0,544.1 L448.4,543.1 L451.8,542.2 L455.3,541.3 L458.8,540.4 L462.3,539.5 L465.8,538.7 L469.4,537.9 L473.0,537.1 L476.9,536.3 L480.9,535.5 L485.0,534.7 L489.1,534.0 L493.2,533.3 L497.4,532.7 L501.5,532.0 L505.6,531.4 L509.6,530.8 L513.6,530.2 L517.6,529.6 L521.4,529.1 L524.8,528.6 L528.2,528.1 L531.5,527.7 L534.9,527.2 L538.2,526.8 L541.5,526.4 L544.8,526.0 L547.9,525.6 L551.0,525.3 L554.0,525.0 L556.9,524.7 L559.6,524.4 L561.5,524.3 L563.2,524.1 L564.9,524.0 L566.4,523.9 L567.9,523.8 L569.4,523.7 L571.0,523.6 L572.5,523.5 L574.1,523.4 L575.9,523.3 L577.8,523.3 L579.8,523.2 L583.9,523.0 L588.6,522.8 L593.7,522.6 L599.2,522.4 L604.9,522.2 L610.7,522.1 L616.7,521.9 L622.6,521.7 L628.3,521.5 L633.9,521.3 L639.1,521.2 L643.9,521.0 L647.2,520.9 L650.3,520.7 L653.3,520.6 L656.2,520.5 L659.0,520.3 L661.8,520.2 L664.5,520.1 L667.4,519.9 L670.3,519.8 L673.3,519.7 L676.5,519.6 L679.9,519.4 L685.0,519.3 L690.6,519.2 L696.5,519.0 L702.7,518.9 L709.0,518.8 L715.3,518.7 L721.7,518.6 L727.9,518.5 L734.0,518.4 L739.7,518.2 L745.1,518.1 L749.9,517.9 L752.9,517.7 L755.7,517.6 L758.3,517.5 L760.9,517.3 L763.4,517.2 L765.8,517.0 L768.1,516.8 L770.5,516.7 L772.8,516.5 L775.1,516.3 L777.5,516.0 L779.9,515.8 L782.3,515.5 L784.6,515.2 L787.0,514.9 L789.3,514.6 L791.7,514.2 L794.0,513.8 L796.3,513.5 L798.6,513.1 L800.9,512.7 L803.3,512.4 L805.6,512.0 L807.9,511.6" stroke="#eeac05" stroke-width="7.5" fill="none" stroke-dasharray="3.3,8.7,16.5,8.7" stroke-dashoffset="0"/>
<path d="M153.0,15.0 L153.2,18.7 L153.5,22.4 L153.7,26.1 L153.9,29.8 L154.2,33.4 L154.4,37.1 L154.6,40.8 L154.9,44.5 L155.1,48.3 L155.3,52.1 L155.6,56.0 L155.8,60.0 L156.1,64.6 L156.3,69.3 L156.6,74.1 L156.8,78.9 L157.0,83.7 L157.3,88.6 L157.5,93.6 L157.8,98.7 L158.1,103.9 L158.4,109.1 L158.7,114.5 L159.0,120.0 L159.5,127.2 L160.1,134.9 L160.7,143.1 L161.3,151.5 L161.9,160.1 L162.6,168.7 L163.2,177.1 L163.9,185.3 L164.5,193.1 L165.1,200.4 L165.7,207.0 L166.2,212.9 L166.5,215.7 L166.7,218.1 L166.9,220.4 L167.2,222.5 L167.4,224.5 L167.6,226.5 L167.8,228.4 L168.0,230.4 L168.2,232.5 L168.5,234.7 L168.7,237.1 L169.0,239.9 L169.5,245.0 L170.0,250.7 L170.5,256.9 L171.1,263.4 L171.6,270.2 L172.2,277.2 L172.8,284.4 L173.5,291.6 L174.2,298.8 L174.9,306.0 L175.7,313.0 L176.5,319.7 L177.3,326.4 L178.2,333.2 L179.2,339.9 L180.2,346.8 L181.2,353.6 L182.3,360.3 L183.4,367.1 L184.4,373.8 L185.5,380.4 L186.5,386.9 L187.5,393.3 L188.5,399.6 L189.3,404.9 L190.0,410.3 L190.7,415.5 L191.3,420.7 L192.0,425.9 L192.6,430.9 L193.3,435.9 L194.0,440.8 L194.7,445.6 L195.5,450.3 L196.4,454.9 L197.4,459.3 L198.2,462.9 L199.1,466.3 L200.0,469.7 L201.0,473.0 L202.0,476.3 L203.0,479.5 L204.1,482.7 L205.1,485.9 L206.2,489.1 L207.2,492.4 L208.3,495.7 L209.3,499.0 L210.3,502.4 L211.3,505.9 L212.2,509.5 L213.1,513.1 L214.1,516.6 L215.0,520.1 L215.9,523.5 L216.8,526.8 L217.8,530.0 L218.8,533.0 L219.9,535.8 L221.0,538.3 L221.7,540.0 L222.6,541.6 L223.4,543.1 L224.3,544.6 L225.2,546.0 L226.0,547.4 L227.0,548.7 L227.9,550.0 L228.8,551.3 L229.8,552.5 L230.8,553.8 L231.9,555.1 L232.8,556.3 L233.7,557.4 L234.7,558.5 L235.6,559.6 L236.5,560.7 L237.5,561.7 L238.4,562.7 L239.4,563.6 L240.3,564.4 L241.3,565.2 L242.2,566.0 L243.2,566.7 L244.2,567.3 L245.1,567.9 L246.1,568.5 L247.2,569.1 L248.2,569.6 L249.3,570.1 L250.4,570.6 L251.5,571.0 L252.7,571.5 L254.0,571.9 L255.2,572.3 L256.5,572.7 L258.2,573.1 L260.0,573.5 L261.9,573.9 L263.9,574.3 L265.9,574.6 L268.0,574.9 L270.1,575.1 L272.2,575.3 L274.2,575.5 L276.3,575.6 L278.2,575.7 L280.1,575.7 L281.8,575.7 L283.4,575.7 L284.9,575.6 L286.5,575.5 L288.0,575.4 L289.5,575.3 L291.0,575.1 L292.5,574.9 L294.0,574.7 L295.5,574.4 L297.0,574.0 L298.6,573.7 L300.3,573.2 L302.1,572.7 L303.9,572.1 L305.8,571.3 L307.7,570.6 L309.7,569.7 L311.8,568.8 L313.9,567.9 L316.1,567.0 L318.4,566.1 L320.7,565.3 L323.2,564.4 L326.1,563.5 L329.1,562.7 L332.2,561.8 L335.3,560.9 L338.5,560.1 L341.7,559.3 L344.9,558.5 L348.1,557.7 L351.3,556.9 L354.5,556.1 L357.5,555.3 L360.6,554.6 L363.3,553.8 L366.0,553.1 L368.7,552.4 L371.3,551.7 L373.9,551.0 L376.5,550.4 L379.2,549.7 L381.9,549.0 L384.7,548.3 L387.6,547.6 L390.6,546.9 L393.8,546.2 L398.4,545.2 L403.4,544.2 L408.6,543.3 L414.0,542.3 L419.5,541.3 L425.1,540.3 L430.7,539.4 L436.3,538.4 L441.8,537.5 L447.1,536.6 L452.3,535.7 L457.1,534.9 L460.9,534.2 L464.5,533.6 L468.1,533.0 L471.5,532.3 L474.9,531.7 L478.2,531.2 L481.6,530.6 L485.0,530.0 L488.4,529.5 L492.0,528.9 L495.6,528.4 L499.4,527.8 L504.0,527.2 L508.7,526.6 L513.5,526.0 L518.3,525.5 L523.2,524.9 L528.2,524.4 L533.3,523.8 L538.4,523.3 L543.6,522.8 L548.9,522.4 L554.3,521.9 L559.7,521.4 L566.2,520.9 L573.1,520.4 L580.1,519.9 L587.3,519.5 L594.6,519.0 L602.0,518.6 L609.3,518.2 L616.5,517.8 L623.7,517.4 L630.7,517.1 L637.4,516.8 L643.9,516.5 L648.9,516.3 L653.7,516.1 L658.3,515.9 L662.7,515.8 L667.1,515.6 L671.5,515.5 L675.9,515.4 L680.3,515.3 L684.9,515.1 L689.7,515.0 L694.7,514.9 L699.9,514.7 L707.7,514.5 L715.9,514.2 L724.5,513.9 L733.3,513.6 L742.5,513.3 L751.8,513.0 L761.2,512.7 L770.7,512.4 L780.1,512.1 L789.6,511.7 L798.9,511.4 L808.0,511.1" stroke="#eeac05" stroke-width="7.5" fill="none" stroke-dasharray="3.3,8.7,16.5,8.7" stroke-dashoffset="0"/>
<path d="M153.0,15.0 L153.3,18.7 L153.6,22.4 L153.8,26.1 L154.1,29.8 L154.4,33.4 L154.7,37.1 L155.0,40.8 L155.2,44.5 L155.5,48.3 L155.8,52.1 L156.1,56.0 L156.4,60.0 L156.7,64.6 L157.0,69.3 L157.3,74.1 L157.6,78.9 L157.9,83.7 L158.2,88.6 L158.5,93.6 L158.8,98.7 L159.1,103.8 L159.5,109.1 L159.9,114.5 L160.3,119.9 L160.8,127.2 L161.4,134.9 L162.1,143.1 L162.8,151.5 L163.5,160.1 L164.2,168.6 L164.9,177.1 L165.6,185.3 L166.3,193.1 L167.0,200.4 L167.5,207.0 L168.1,212.9 L168.3,215.6 L168.6,218.1 L168.8,220.4 L169.0,222.5 L169.2,224.5 L169.4,226.5 L169.6,228.4 L169.8,230.4 L170.0,232.5 L170.3,234.7 L170.5,237.1 L170.8,239.8 L171.4,245.0 L172.0,250.7 L172.7,256.8 L173.4,263.3 L174.1,270.1 L174.9,277.1 L175.7,284.3 L176.6,291.5 L177.4,298.8 L178.3,305.9 L179.2,312.9 L180.0,319.7 L180.9,326.4 L181.9,333.1 L182.8,339.9 L183.9,346.7 L184.9,353.5 L185.9,360.3 L187.0,367.1 L188.0,373.8 L189.1,380.4 L190.1,386.9 L191.1,393.3 L192.1,399.5 L193.0,404.9 L193.8,410.2 L194.6,415.5 L195.3,420.7 L196.1,425.8 L196.9,430.8 L197.7,435.8 L198.6,440.7 L199.4,445.5 L200.4,450.2 L201.3,454.8 L202.4,459.2 L203.3,462.8 L204.3,466.4 L205.3,469.9 L206.4,473.4 L207.5,476.9 L208.7,480.3 L209.9,483.6 L211.0,486.8 L212.2,489.9 L213.3,493.0 L214.3,495.9 L215.3,498.8 L215.9,500.7 L216.6,502.5 L217.1,504.3 L217.7,506.0 L218.2,507.6 L218.8,509.2 L219.3,510.7 L219.8,512.3 L220.4,513.8 L220.9,515.4 L221.5,516.9 L222.1,518.5 L222.7,520.2 L223.4,521.9 L224.0,523.6 L224.7,525.4 L225.4,527.1 L226.1,528.8 L226.8,530.5 L227.4,532.1 L228.1,533.6 L228.8,535.1 L229.5,536.5 L230.2,537.9 L230.7,538.8 L231.3,539.7 L231.8,540.6 L232.3,541.5 L232.9,542.3 L233.4,543.1 L234.0,543.9 L234.6,544.7 L235.2,545.5 L235.8,546.3 L236.4,547.1 L237.1,548.0 L237.9,549.0 L238.7,550.1 L239.5,551.1 L240.2,552.2 L241.0,553.2 L241.8,554.2 L242.6,555.1 L243.4,555.9 L244.2,556.7 L244.9,557.5 L245.6,558.1 L246.3,558.7 L247.0,559.2 L247.7,559.7 L248.5,560.1 L249.3,560.5 L250.1,560.9 L250.9,561.3 L251.8,561.7 L252.7,562.0 L253.6,562.3 L254.5,562.6 L255.5,562.9 L256.4,563.1 L257.4,563.4 L258.4,563.6 L259.4,563.7 L260.5,563.9 L261.6,564.0 L262.8,564.1 L264.0,564.1 L265.2,564.2 L266.4,564.2 L267.7,564.2 L268.9,564.3 L270.2,564.3 L271.4,564.3 L272.6,564.3 L273.8,564.3 L275.0,564.3 L276.2,564.3 L277.4,564.3 L278.5,564.2 L279.7,564.2 L280.8,564.1 L282.0,564.0 L283.1,563.8 L284.2,563.7 L285.4,563.5 L286.5,563.3 L287.6,563.1 L288.8,562.9 L289.9,562.6 L291.0,562.3 L292.2,562.0 L293.4,561.7 L294.6,561.4 L295.8,561.0 L297.0,560.6 L298.3,560.3 L299.6,559.8 L301.0,559.4 L302.4,558.9 L303.9,558.4 L305.3,557.9 L306.8,557.3 L308.3,556.7 L309.9,556.2 L311.4,555.6 L313.0,555.0 L314.5,554.5 L316.1,553.9 L317.5,553.4 L318.9,553.0 L320.3,552.5 L321.7,552.1 L323.1,551.6 L324.5,551.2 L325.9,550.8 L327.3,550.3 L328.7,549.9 L330.2,549.4 L331.7,548.9 L333.3,548.5 L335.3,547.9 L337.4,547.2 L339.5,546.6 L341.7,545.9 L344.0,545.2 L346.3,544.5 L348.6,543.8 L350.9,543.1 L353.3,542.5 L355.8,541.8 L358.2,541.2 L360.6,540.5 L363.3,539.9 L365.9,539.3 L368.6,538.7 L371.3,538.1 L374.1,537.5 L376.8,536.9 L379.6,536.4 L382.4,535.8 L385.2,535.3 L388.1,534.7 L391.1,534.2 L394.0,533.7 L397.5,533.0 L401.1,532.4 L404.8,531.9 L408.5,531.3 L412.3,530.7 L416.1,530.2 L419.9,529.6 L423.8,529.1 L427.7,528.6 L431.6,528.1 L435.5,527.6 L439.4,527.1 L443.5,526.6 L447.6,526.2 L451.7,525.7 L455.9,525.3 L460.1,524.9 L464.3,524.4 L468.5,524.0 L472.8,523.7 L477.0,523.3 L481.2,522.9 L485.4,522.6 L489.6,522.2 L493.8,521.9 L498.0,521.5 L502.3,521.2 L506.5,520.9 L510.8,520.6 L515.0,520.4 L519.3,520.1 L523.4,519.8 L527.6,519.5 L531.7,519.3 L535.7,519.0 L539.7,518.7 L543.1,518.5 L546.4,518.2 L549.5,517.9 L552.6,517.7 L555.7,517.4 L558.8,517.1 L561.9,516.9 L565.2,516.6 L568.5,516.4 L572.1,516.1 L575.8,515.9 L579.8,515.7 L586.5,515.3 L593.7,515.0 L601.4,514.7 L609.4,514.4 L617.7,514.1 L626.3,513.8 L635.1,513.6 L644.0,513.3 L653.0,513.1 L662.0,512.9 L671.0,512.7 L679.9,512.4 L690.0,512.2 L700.4,512.0 L710.8,511.9 L721.5,511.7 L732.2,511.6 L743.0,511.4 L753.8,511.3 L764.7,511.2 L775.6,511.0 L786.5,510.9 L797.3,510.8 L808.0,510.6" stroke="#eeac05" stroke-width="7.5" fill="none" stroke-dasharray="3.3,8.7,16.5,8.7" stroke-dashoffset="0"/>
</g>
<!-- arrow -->
<g filter="url(#bl)">
<line x1="161.4" y1="559.3" x2="228.3" y2="470.1" stroke="#1f3bff" stroke-width="5"/>
<polygon fill="#1f3bff" points="241.5,452.5 215.2,465.9 215.7,471.9 223.2,472.5 227.4,475.7 230.1,482.7 236.0,481.5"/>
</g>
<!-- tick labels -->
<g class="tk">
<text x="145" y="27.5" text-anchor="end">1</text>
<text x="146" y="228" text-anchor="end">0.6</text>
<text x="146" y="424.5" text-anchor="end">0.2</text>
<text x="146" y="623.5" text-anchor="end">&#8211;0.2</text>
<text x="151" y="649" text-anchor="middle">0</text>
<text x="315.4" y="649" text-anchor="middle">1</text>
<text x="479.8" y="649" text-anchor="middle">2</text>
<text x="644.2" y="649" text-anchor="middle">3</text>
<text x="808.6" y="649" text-anchor="middle">4</text>
</g>
<!-- axis labels -->
<text class="gx" x="466" y="697.7">&#967;</text>
<g transform="translate(53.5,362) rotate(-90)">
<text class="pr" x="-2.5" y="0" style="font-size:51.5px">&#952;</text>
<text class="pr" x="20.2" y="-21.7" style="font-size:44px">*</text>
<text class="pr" x="42" y="-2.5">(</text>
<text class="gx" x="60" y="0.2">&#967;</text>
<text class="pr" x="88" y="-2.5">)</text>
</g>
<!-- annotation -->
<text class="an" x="296" y="469.5">A</text>
<text class="pr" x="329" y="448.5" style="font-size:48px">*</text>
<text class="anu" x="348" y="476" style="font-size:57px">=</text>
<text class="an" x="379.5" y="469.5" style="font-size:51px">0.5,1.5,2.5</text>
<!-- legend -->
<g shape-rendering="crispEdges">
<rect x="471" y="25" width="325.8" height="141.6" fill="#fff"/>
<rect x="471" y="25" width="325.8" height="2.4" fill="#8a8a8a"/>
<rect x="471" y="27.4" width="325.8" height="2.5" fill="#111"/>
<rect x="471" y="164" width="325.8" height="2.6" fill="#6a6a6a"/>
<rect x="471" y="162" width="325.8" height="2" fill="#111"/>
<rect x="792.3" y="25" width="2.2" height="141.6" fill="#8a8a8a"/>
<rect x="794.5" y="25" width="2.3" height="141.6" fill="#111"/>
<rect x="473.7" y="27.4" width="2.3" height="136.6" fill="#6a6a6a"/>
<rect x="471" y="25" width="2.7" height="141.6" fill="#111"/>
</g>
<g filter="url(#bl)">
<line x1="487" y1="53" x2="566.6" y2="53" stroke="#1f3bff" stroke-width="7"/>
<line x1="487" y1="96" x2="566.6" y2="96" stroke="#5aff00" stroke-width="7" stroke-dasharray="16,14.8"/>
<line x1="487" y1="137.8" x2="566.6" y2="137.8" stroke="#eeac05" stroke-width="7.5" stroke-dasharray="3.3,9,16.5,8.7"/>
</g>
<g class="lg">
<text x="575" y="65.7">momo NF</text>
<text x="575" y="108.5">hybrid NF</text>
<text x="575" y="151.3">tri&#8211;hybrid NF</text>
</g>
</svg>
</body></html>
